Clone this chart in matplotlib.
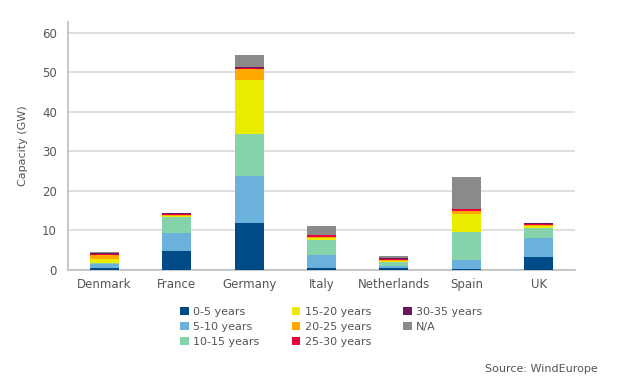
import numpy as np
import matplotlib
matplotlib.use("Agg")
import matplotlib.pyplot as plt
from matplotlib.patches import Patch

countries = ["Denmark", "France", "Germany", "Italy", "Netherlands", "Spain", "UK"]
age_groups = ["0-5 years", "5-10 years", "10-15 years", "15-20 years",
              "20-25 years", "25-30 years", "30-35 years", "N/A"]

# capacity per age group (GW), one list per group, in country order
age_0_5 = [0.5, 4.9, 12.0, 0.5, 0.5, 0.2, 3.3]
age_5_10 = [1.0, 4.4, 11.8, 3.2, 0.5, 2.3, 4.9]
age_10_15 = [0.2, 4.1, 10.5, 3.9, 1.0, 7.2, 2.4]
age_15_20 = [1.0, 0.2, 13.8, 0.5, 0.3, 4.4, 0.5]
age_20_25 = [1.2, 0.2, 2.8, 0.3, 0.3, 0.9, 0.2]
age_25_30 = [0.25, 0.4, 0.2, 0.4, 0.25, 0.3, 0.4]
age_30_35 = [0.25, 0.1, 0.3, 0.1, 0.1, 0.1, 0.2]
age_na = [0.25, 0.2, 3.0, 2.1, 0.6, 8.2, 0.1]

series = [age_0_5, age_5_10, age_10_15, age_15_20, age_20_25, age_25_30, age_30_35, age_na]
colors = ["#004a87", "#6ab2dc", "#86d2aa", "#ebeb00", "#ffa800", "#e8003c", "#6e1464", "#8a8a8a"]

grey_txt = "#555555"

fig = plt.figure(figsize=(6.27, 3.76), dpi=100)
ax = fig.add_axes([0.1085, 0.282, 0.917 - 0.1085, 0.9415 - 0.282])

x = np.arange(len(countries))
bottom = np.zeros(len(countries))
for vals, col in zip(series, colors):
    ax.bar(x, vals, width=0.4, bottom=bottom, color=col, zorder=3)
    bottom += np.array(vals)

ax.set_xlim(-0.5, len(countries) - 0.5)
ax.set_ylim(0, 62.7)
ax.set_yticks(range(0, 61, 10))
ax.set_xticks(x)
ax.set_xticklabels(countries)
ax.yaxis.grid(True, color="#d9d9d9", linewidth=1.2, zorder=0)
ax.tick_params(axis="both", length=0, colors=grey_txt, labelsize=8.5, pad=6)
ax.tick_params(axis="y", pad=8)

for s in ["top", "right"]:
    ax.spines[s].set_visible(False)
for s in ["left", "bottom"]:
    ax.spines[s].set_color("#bdbdbd")
    ax.spines[s].set_linewidth(1.2)

ax.set_ylabel("Capacity (GW)", color=grey_txt, fontsize=8, labelpad=10)

handles = [Patch(facecolor=c, edgecolor="none") for c in colors]
fig.legend(handles, age_groups, loc="upper left", bbox_to_anchor=(0.279, 0.199),
           ncol=3, frameon=False, fontsize=8, handlelength=0.75, handleheight=0.75,
           handletextpad=0.4, columnspacing=2.9, labelspacing=0.45, borderpad=0,
           labelcolor=grey_txt)

fig.text(0.773, 1 - 374 / 376, "Source: WindEurope", color=grey_txt, fontsize=8, va="bottom")

fig.savefig("out.png", dpi=100)
